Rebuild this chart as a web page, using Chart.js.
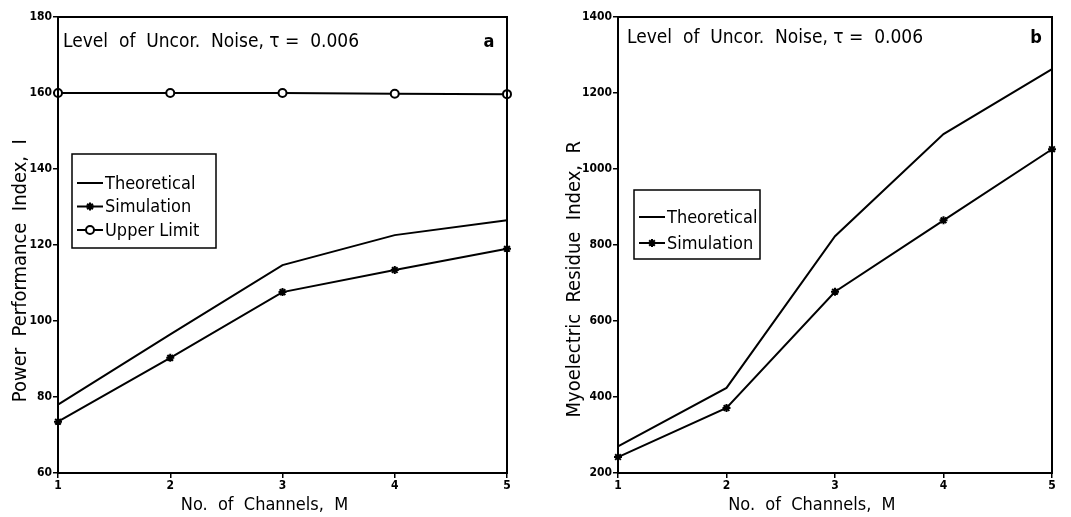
<!DOCTYPE html>
<html>
<head>
<meta charset="utf-8">
<script src="https://cdn.jsdelivr.net/npm/chart.js@4/dist/chart.umd.min.js"></script>
<style>
  html, body { margin: 0; padding: 0; background: #fff; }
  #wrap { position: relative; width: 1071px; height: 517px; overflow: hidden; }
  canvas { position: absolute; top: 0; }
</style>
</head>
<body>
<div id="wrap">
  <canvas id="chartA" width="530" height="517" style="left:0"></canvas>
  <canvas id="chartB" width="541" height="517" style="left:530px"></canvas>
</div>
<script>
// ---- data ----
const channels = [1, 2, 3, 4, 5]

const powerTheoretical = [78, 96.5, 114.7, 122.6, 126.5]
const powerSimulation = [73.5, 90.3, 107.6, 113.4, 119]
const powerUpperLimit = [160, 160, 160, 159.8, 159.7]

const residueTheoretical = [270, 424, 823, 1092, 1263]
const residueSimulation = [242, 371, 677, 865, 1052]

const noiseText = 'Level  of  Uncor.  Noise, τ =  0.006'

const FONT = "'DejaVu Sans Condensed', 'DejaVu Sans', sans-serif"

// the printed titles sit off-centre, trailing blanks push them over
const offCentre = (text, n) => text + ' '.repeat(n)

// ---- box, annotation and in-plot legend ----
const framePlugin = {
    id: 'frame',
    afterDraw(chart, args, opts) {
        const { ctx, chartArea: a } = chart
        ctx.save()
        ctx.strokeStyle = '#000'
        ctx.lineWidth = 2
        ctx.strokeRect(a.left, a.top, a.right - a.left, a.bottom - a.top)

        ctx.fillStyle = '#000'
        ctx.textBaseline = 'middle'
        ctx.font = `19px ${FONT}`
        ctx.textAlign = 'left'
        ctx.fillText(noiseText, a.left + opts.textX, a.top + opts.textY)
        ctx.font = `bold 18px ${FONT}`
        ctx.textAlign = 'center'
        ctx.fillText(opts.panel, a.right - opts.panelX, a.top + opts.textY)

        // legend
        const b = opts.box
        const x0 = a.left + b.x, y0 = b.y
        ctx.lineWidth = 1.5
        ctx.strokeRect(x0, y0, b.w, b.h)
        ctx.font = `18px ${FONT}`
        ctx.textAlign = 'left'
        chart.data.datasets.forEach((ds, i) => {
            const y = y0 + b.first + i * b.step
            ctx.lineWidth = 2
            ctx.beginPath()
            ctx.moveTo(x0 + 5, y)
            ctx.lineTo(x0 + 31, y)
            ctx.stroke()
            if (ds.pointStyle !== false) {
                ctx.fillStyle = ds.pointBackgroundColor
                Chart.helpers.drawPoint(ctx, {
                    pointStyle: ds.pointStyle,
                    radius: ds.pointRadius,
                    rotation: 0,
                    borderWidth: ds.pointBorderWidth
                }, x0 + 18, y)
            }
            ctx.fillStyle = '#000'
            ctx.fillText(ds.label, x0 + 33, y + 1)
        })
        ctx.restore()
    }
}

function lineSet(label, data, style) {
    return {
        label,
        data,
        borderColor: '#000',
        borderWidth: 2,
        tension: 0,
        pointStyle: style,
        pointRadius: style ? 4 : 0,
        pointBorderWidth: 2,
        pointBorderColor: '#000',
        pointBackgroundColor: style === 'circle' ? '#fff' : '#000'
    }
}

function makeChart(canvas, cfg) {
    return new Chart(canvas, {
        type: 'line',
        data: { labels: channels, datasets: cfg.datasets },
        options: {
            responsive: false,
            animation: false,
            layout: { padding: { top: 17, right: cfg.padRight, left: 0, bottom: 0 } },
            plugins: {
                legend: { display: false },
                tooltip: { enabled: false },
                frame: cfg.frame
            },
            scales: {
                x: {
                    offset: false,
                    afterFit: (s) => { s.height = 44 },
                    grid: { drawOnChartArea: false, color: '#000', tickLength: 5, lineWidth: 1.5 },
                    border: { color: '#000', width: 2 },
                    ticks: { color: '#000', font: { family: FONT, size: 12, weight: 'bold' }, padding: 1, maxRotation: 0 },
                    title: {
                        display: true,
                        text: offCentre('No.  of  Channels,  M', cfg.xShift),
                        color: '#000',
                        font: { family: FONT, size: 18 },
                        padding: { top: 0, bottom: 1 }
                    }
                },
                y: {
                    min: cfg.min,
                    max: cfg.max,
                    afterFit: (s) => { s.width = cfg.axisWidth },
                    grid: { drawOnChartArea: false, color: '#000', tickLength: 5, lineWidth: 1.5 },
                    border: { color: '#000', width: 2 },
                    ticks: {
                        stepSize: cfg.step,
                        color: '#000',
                        font: { family: FONT, size: 12, weight: 'bold' },
                        padding: 1,
                        callback: (v) => String(v)
                    },
                    title: {
                        display: true,
                        text: offCentre(cfg.yTitle, cfg.yShift),
                        color: '#000',
                        font: { family: FONT, size: 20 },
                        padding: { top: cfg.titlePad, bottom: 0 }
                    }
                }
            }
        },
        plugins: [framePlugin]
    })
}

makeChart(document.getElementById('chartA'), {
    datasets: [
        lineSet('Theoretical', powerTheoretical, false),
        lineSet('Simulation', powerSimulation, 'star'),
        lineSet('Upper Limit', powerUpperLimit, 'circle')
    ],
    min: 60, max: 180, step: 20,
    axisWidth: 58, padRight: 23, titlePad: 9,
    xShift: 7, yShift: 9,
    yTitle: 'Power  Performance  Index,  I',
    frame: {
        panel: 'a', textX: 5, textY: 25, panelX: 18,
        box: { x: 14, y: 154, w: 144, h: 94, first: 29, step: 23.5 }
    }
})

makeChart(document.getElementById('chartB'), {
    datasets: [
        lineSet('Theoretical', residueTheoretical, false),
        lineSet('Simulation', residueSimulation, 'star')
    ],
    min: 200, max: 1400, step: 200,
    axisWidth: 88, padRight: 19, titlePad: 33,
    xShift: 9, yShift: 12,
    yTitle: 'Myoelectric  Residue  Index,  R',
    frame: {
        panel: 'b', textX: 9, textY: 21, panelX: 16,
        box: { x: 16, y: 190, w: 126, h: 69, first: 27, step: 26 }
    }
})
</script>
</body>
</html>
